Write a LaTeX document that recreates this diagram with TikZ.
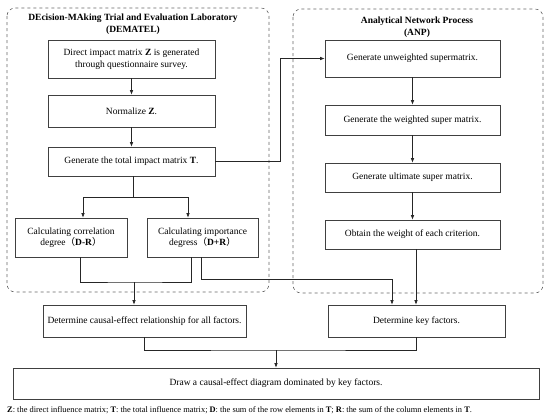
\documentclass[tikz,border=0pt]{standalone}
\usepackage{fontspec}
\setmainfont{Liberation Serif}
\newfontfamily\cjk{Noto Sans CJK SC}
\usetikzlibrary{arrows.meta}
\newcommand{\lpar}{{\cjk （}}
\newcommand{\rpar}{{\cjk ）}}
\begin{document}
\begin{tikzpicture}[x=1pt,y=-1pt,
  stepbox/.style={draw=black!75,line width=0.6pt,rectangle,inner sep=1pt,align=center,
     font=\fontsize{9.5}{11.5}\selectfont},
  grp/.style={draw=black!60,dashed,rounded corners=8pt,line width=0.6pt},
  ttl/.style={align=center,font=\bfseries\fontsize{9.5}{12}\selectfont},
  conn/.style={draw=black!85,line width=0.6pt},
  arr/.style={conn,-{Latex[length=4.5pt,width=3.5pt]}}]
\useasboundingbox (0,0) rectangle (550,416);
% groups
\draw[grp] (7,8) rectangle (269,292);
\draw[grp] (293,9) rectangle (543,293);
\node[ttl] (tl) at (133,24) {DEcision-MAking Trial and Evaluation Laboratory\\(DEMATEL)};
\node[ttl] (tr) at (417,27) {Analytical Network Process\\(ANP)};
% left boxes
\node[stepbox,minimum width=167pt,minimum height=38pt] (b1) at (131.5,59) {Direct impact matrix \textbf{Z} is generated\\through questionnaire survey.};
\node[stepbox,minimum width=167pt,minimum height=32pt] (b2) at (131.5,111) {Normalize \textbf{Z}.};
\node[stepbox,minimum width=167pt,minimum height=29pt] (b3) at (131.5,161.5) {Generate the total impact matrix \textbf{T}.};
\node[stepbox,minimum width=112pt,minimum height=39pt] (b4) at (71,237.5) {Calculating correlation\\degree\lpar\textbf{D-R}\rpar};
\node[stepbox,minimum width=111pt,minimum height=39pt] (b5) at (202.5,237.5) {Calculating importance\\degress\lpar\textbf{D+R}\rpar};
% right boxes
\node[stepbox,minimum width=175pt,minimum height=37pt] (r1) at (412.5,58.5) {Generate unweighted supermatrix.};
\node[stepbox,minimum width=175pt,minimum height=30pt] (r2) at (412.5,120) {Generate the weighted super matrix.};
\node[stepbox,minimum width=175pt,minimum height=29pt] (r3) at (412.5,177.5) {Generate ultimate super matrix.};
\node[stepbox,minimum width=175pt,minimum height=29pt] (r4) at (412.5,234.5) {Obtain the weight of each criterion.};
% lower boxes
\node[stepbox,minimum width=203pt,minimum height=32pt] (c1) at (144.5,321) {Determine causal-effect relationship for all factors.};
\node[stepbox,minimum width=177pt,minimum height=32pt] (k1) at (416.5,321) {Determine key factors.};
\node[stepbox,minimum width=526pt,minimum height=31pt] (d1) at (276,383.5) {Draw a causal-effect diagram dominated by key factors.};
\node[anchor=west,inner sep=0pt,font=\fontsize{8.4}{10}\selectfont] (fn) at (7,410) {\textbf{Z}: the direct influence matrix; \textbf{T}: the total influence matrix; \textbf{D}: the sum of the row elements in \textbf{T}; \textbf{R}: the sum of the column elements in \textbf{T}.};
% connectors
\draw[arr] (b1) -- (b2);
\draw[arr] (b2) -- (b3);
\coordinate (j1) at (133,197);
\draw[conn] (b3.south -| j1) -- (j1);
\draw[arr] (j1) -| ([xshift=12pt]b4.north);
\draw[arr] (j1) -| ([xshift=-14.5pt]b5.north);
\coordinate (j2) at (134,282);
\draw[conn] ([xshift=9pt]b4.south) |- (j2) -| ([xshift=-11.5pt]b5.south);
\draw[arr] (j2) -- (j2 |- c1.north);
\coordinate (j3) at (392,279);
\draw[arr] ([xshift=-1.5pt]b5.south) |- (j3) -- (j3 |- k1.north);
\coordinate (j4) at (280,161.5);
\draw[arr] (b3.east) -- (j4) |- (r1.west);
\draw[arr] (r1) -- (r2);
\draw[arr] (r2) -- (r3);
\draw[arr] (r3) -- (r4);
\draw[arr] ([xshift=3.5pt]r4.south) -- ([xshift=3.5pt]r4.south |- k1.north);
\coordinate (j5) at (276,350);
\draw[conn] (c1.south) |- (j5) -| (k1.south);
\draw[arr] (j5) -- (d1.north);
\end{tikzpicture}
\end{document}
